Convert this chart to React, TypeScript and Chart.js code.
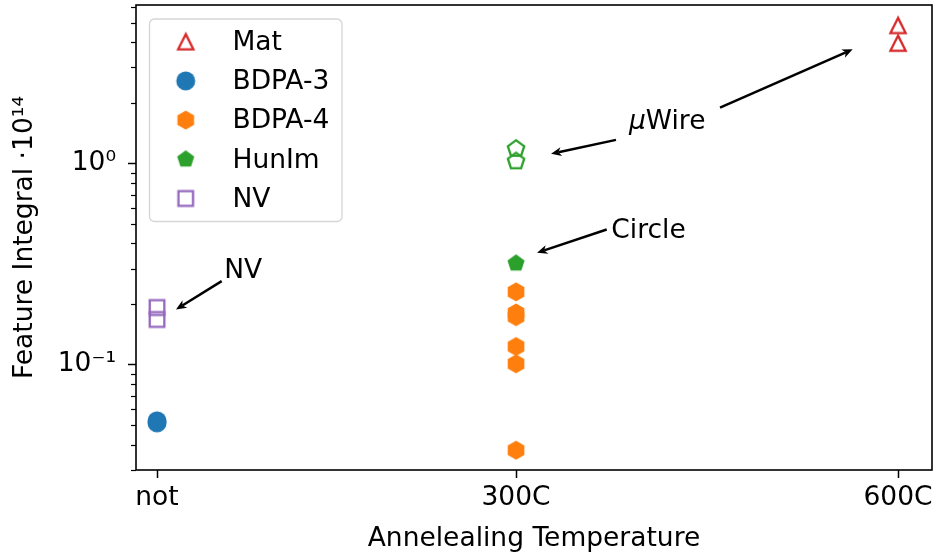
import React, { useEffect, useRef } from "react";
import { Chart, registerables } from "chart.js";

Chart.register(...registerables);

// ---------- data ----------
const CATEGORY_LABELS = ["not", "300C", "600C"];
const CATEGORY_X = [18, 300, 600];

const MAT_Y = [4.85, 3.96]; // at 600C
const BDPA3_Y = [0.0525, 0.0513]; // at not
const BDPA4_Y = [0.2298, 0.1804, 0.173, 0.1229, 0.1009, 0.0375]; // at 300C
const HUNIM_WIRE_Y = [1.181, 1.024]; // at 300C (open)
const HUNIM_CIRCLE_Y = [0.3188]; // at 300C (filled)
const NV_Y = [0.192, 0.1675]; // at not

const Y_MAJOR = [0.1, 1];
const Y_MAJOR_LABELS = ["10\u207B\u00B9", "10\u2070"];
const Y_MINOR = [0.03, 0.04, 0.05, 0.06, 0.07, 0.08, 0.09, 0.2, 0.3, 0.4, 0.5, 0.6, 0.7, 0.8, 0.9, 2, 3, 4, 5, 6];

const X_MIN = 1.5;
const X_MAX = 626.7;
const Y_MIN = 0.0299;
const Y_MAX = 6.13;

const ANNOTATIONS = [
  { text: "NV", x: 70.8, y: 0.27, arrows: [{ from: [68.8, 0.2597], to: [32.9, 0.1878] }] },
  {
    text: "Wire",
    prefix: "\u03BC",
    x: 388.7,
    y: 1.476,
    arrows: [
      { from: [378.5, 1.309], to: [327.5, 1.117] },
      { from: [460.2, 1.893], to: [564.4, 3.69] },
    ],
  },
  { text: "Circle", x: 374.8, y: 0.427, arrows: [{ from: [371.2, 0.4694], to: [316.5, 0.3595] }] },
];

const FONT = "'DejaVu Sans', 'Liberation Sans', sans-serif";
const FONT_SIZE = 26.5;

// ---------- markers ----------
function makeMarker(kind: string, color: string, filled: boolean): HTMLCanvasElement {
  const c = document.createElement("canvas");
  c.width = 28;
  c.height = 28;
  const g = c.getContext("2d")!;
  const cx = 14,
    cy = 14;
  g.beginPath();
  if (kind === "circle") {
    g.arc(cx, cy, 9.5, 0, Math.PI * 2);
  } else if (kind === "hexagon") {
    const R = 9.6;
    for (let i = 0; i < 6; i++) {
      const a = -Math.PI / 2 + (i * Math.PI) / 3;
      const px = cx + R * Math.cos(a),
        py = cy + R * Math.sin(a);
      if (i === 0) g.moveTo(px, py);
      else g.lineTo(px, py);
    }
    g.closePath();
  } else if (kind === "pentagon") {
    const R = filled ? 9 : 8.6;
    for (let i = 0; i < 5; i++) {
      const a = -Math.PI / 2 + (i * 2 * Math.PI) / 5;
      const px = cx + R * Math.cos(a),
        py = cy + R * Math.sin(a);
      if (i === 0) g.moveTo(px, py);
      else g.lineTo(px, py);
    }
    g.closePath();
  } else if (kind === "triangle") {
    const h = 7.6;
    g.moveTo(cx, cy - h);
    g.lineTo(cx - h, cy + h);
    g.lineTo(cx + h, cy + h);
    g.closePath();
  } else if (kind === "square") {
    const s = 7.3;
    g.rect(cx - s, cy - s, 2 * s, 2 * s);
  }
  g.lineJoin = "miter";
  if (filled) {
    g.fillStyle = color;
    g.fill();
  } else {
    g.strokeStyle = color;
    g.lineWidth = 2.3;
    g.stroke();
  }
  return c;
}

function drawArrow(ctx: CanvasRenderingContext2D, x1: number, y1: number, x2: number, y2: number) {
  const ang = Math.atan2(y2 - y1, x2 - x1);
  const headLen = 10.5;
  const headHalf = 4.5;
  const notch = 3;
  const bx = x2 - Math.cos(ang) * (headLen - notch);
  const by = y2 - Math.sin(ang) * (headLen - notch);
  ctx.beginPath();
  ctx.moveTo(x1, y1);
  ctx.lineTo(bx, by);
  ctx.lineWidth = 2.5;
  ctx.strokeStyle = "#000";
  ctx.stroke();
  const backX = x2 - Math.cos(ang) * headLen;
  const backY = y2 - Math.sin(ang) * headLen;
  const px = -Math.sin(ang),
    py = Math.cos(ang);
  ctx.beginPath();
  ctx.moveTo(x2, y2);
  ctx.lineTo(backX + px * headHalf, backY + py * headHalf);
  ctx.lineTo(bx, by);
  ctx.lineTo(backX - px * headHalf, backY - py * headHalf);
  ctx.closePath();
  ctx.fillStyle = "#000";
  ctx.fill();
}

export default function App() {
  const ref = useRef<HTMLCanvasElement>(null);

  useEffect(() => {
    document.body.style.margin = "0";
    const canvas = ref.current!;

    const mk = {
      mat: makeMarker("triangle", "#d62728", false),
      bdpa3: makeMarker("circle", "#1f77b4", true),
      bdpa4: makeMarker("hexagon", "#ff7f0e", true),
      hunimOpen: makeMarker("pentagon", "#2ca02c", false),
      hunim: makeMarker("pentagon", "#2ca02c", true),
      nv: makeMarker("square", "#9467bd", false),
    };

    const ds = (label: string, xv: number, ys: number[], style: HTMLCanvasElement, legend: boolean) => ({
      label,
      data: ys.map((y) => ({ x: xv, y })),
      pointStyle: style,
      pointRadius: 9,
      showLine: false,
      inLegend: legend,
    });

    const datasets: any[] = [
      ds("Mat", CATEGORY_X[2], MAT_Y, mk.mat, true),
      ds("BDPA-3", CATEGORY_X[0], BDPA3_Y, mk.bdpa3, true),
      ds("BDPA-4", CATEGORY_X[1], BDPA4_Y, mk.bdpa4, true),
      ds("HunIm", CATEGORY_X[1], HUNIM_CIRCLE_Y, mk.hunim, true),
      ds("HunIm (wire)", CATEGORY_X[1], HUNIM_WIRE_Y, mk.hunimOpen, false),
      ds("NV", CATEGORY_X[0], NV_Y, mk.nv, true),
    ];

    const extras = {
      id: "extras",
      afterDraw(chart: any) {
        const { ctx, chartArea: ca, scales } = chart;
        const xs = scales.x,
          ys = scales.y;
        ctx.save();
        // minor y ticks
        ctx.strokeStyle = "#000";
        ctx.lineWidth = 1.2;
        for (const v of Y_MINOR) {
          const py = Math.round(ys.getPixelForValue(v)) + 0.5;
          ctx.beginPath();
          ctx.moveTo(ca.left - 5, py);
          ctx.lineTo(ca.left, py);
          ctx.stroke();
        }
        // frame
        ctx.lineWidth = 1.6;
        ctx.strokeRect(ca.left, ca.top, ca.right - ca.left, ca.bottom - ca.top);

        // annotations
        ctx.textBaseline = "alphabetic";
        ctx.textAlign = "left";
        ctx.fillStyle = "#000";
        for (const a of ANNOTATIONS) {
          const tx = xs.getPixelForValue(a.x);
          const ty = ys.getPixelForValue(a.y);
          let off = 0;
          if (a.prefix) {
            ctx.font = `oblique ${FONT_SIZE}px ${FONT}`;
            ctx.fillText(a.prefix, tx, ty);
            off = ctx.measureText(a.prefix).width;
          }
          ctx.font = `${FONT_SIZE}px ${FONT}`;
          ctx.fillText(a.text, tx + off, ty);
          for (const ar of a.arrows) {
            drawArrow(
              ctx,
              xs.getPixelForValue(ar.from[0]),
              ys.getPixelForValue(ar.from[1]),
              xs.getPixelForValue(ar.to[0]),
              ys.getPixelForValue(ar.to[1])
            );
          }
        }

        // legend
        const items = chart.data.datasets.filter((d: any) => d.inLegend);
        const lx = ca.left + 13.5,
          ly = ca.top + 14,
          lw = 192.5,
          lh = 202.5,
          r = 5;
        ctx.beginPath();
        ctx.moveTo(lx + r, ly);
        ctx.lineTo(lx + lw - r, ly);
        ctx.arcTo(lx + lw, ly, lx + lw, ly + r, r);
        ctx.lineTo(lx + lw, ly + lh - r);
        ctx.arcTo(lx + lw, ly + lh, lx + lw - r, ly + lh, r);
        ctx.lineTo(lx + r, ly + lh);
        ctx.arcTo(lx, ly + lh, lx, ly + lh - r, r);
        ctx.lineTo(lx, ly + r);
        ctx.arcTo(lx, ly, lx + r, ly, r);
        ctx.closePath();
        ctx.fillStyle = "rgba(255,255,255,0.8)";
        ctx.fill();
        ctx.strokeStyle = "rgba(204,204,204,0.8)";
        ctx.lineWidth = 1.3;
        ctx.stroke();
        ctx.font = `${FONT_SIZE}px ${FONT}`;
        ctx.fillStyle = "#000";
        items.forEach((d: any, i: number) => {
          const base = ly + 31 + i * 39.2;
          const my = base - 8.3;
          const img = d.pointStyle as HTMLCanvasElement;
          ctx.drawImage(img, lx + 36.2 - img.width / 2, my - img.height / 2);
          ctx.fillText(d.label, lx + 83, base);
        });
        ctx.restore();
      },
    };

    const font = { family: FONT, size: FONT_SIZE };

    const chart = new Chart(canvas, {
      type: "scatter",
      data: { datasets },
      options: {
        animation: false,
        responsive: false,
        devicePixelRatio: 1,
        layout: { autoPadding: false, padding: { top: 5, right: 3, left: 0, bottom: 0 } },
        plugins: { legend: { display: false }, tooltip: { enabled: false } },
        scales: {
          x: {
            type: "linear",
            min: X_MIN,
            max: X_MAX,
            afterBuildTicks: (s: any) => {
              s.ticks = CATEGORY_X.map((v) => ({ value: v }));
            },
            afterFit: (s: any) => {
              s.height = 86;
              s.paddingLeft = 0;
              s.paddingRight = 0;
            },
            ticks: {
              callback: (v: any) => {
                const i = CATEGORY_X.indexOf(Number(v));
                return i >= 0 ? CATEGORY_LABELS[i] : "";
              },
              font,
              color: "#000",
              padding: 4,
              maxRotation: 0,
              autoSkip: false,
            },
            grid: { drawOnChartArea: false, drawTicks: true, tickLength: 8, tickColor: "#000", tickWidth: 1.5 },
            border: { display: false },
            title: {
              display: true,
              text: "Annelealing Temperature",
              font,
              color: "#000",
              padding: { top: 0, bottom: 1.2 },
            },
          },
          y: {
            type: "logarithmic",
            min: Y_MIN,
            max: Y_MAX,
            afterBuildTicks: (s: any) => {
              s.ticks = Y_MAJOR.map((v) => ({ value: v, major: true }));
            },
            afterFit: (s: any) => {
              s.width = 136;
              s.paddingTop = 0;
              s.paddingBottom = 0;
            },
            ticks: {
              callback: (v: any) => {
                const i = Y_MAJOR.indexOf(Number(v));
                return i >= 0 ? Y_MAJOR_LABELS[i] : "";
              },
              font,
              color: "#000",
              padding: 12,
              autoSkip: false,
            },
            grid: { drawOnChartArea: false, drawTicks: true, tickLength: 8, tickColor: "#000", tickWidth: 1.5 },
            border: { display: false },
            title: {
              display: true,
              text: "Feature Integral \u00B710\u00B9\u2074",
              font,
              color: "#000",
              padding: { top: 9, bottom: 0 },
            },
          },
        },
      },
      plugins: [extras],
    } as any);

    return () => chart.destroy();
  }, []);

  return (
    <div style={{ width: 935, height: 556 }}>
      <canvas ref={ref} width={935} height={556} style={{ display: "block", width: 935, height: 556 }} />
    </div>
  );
}
